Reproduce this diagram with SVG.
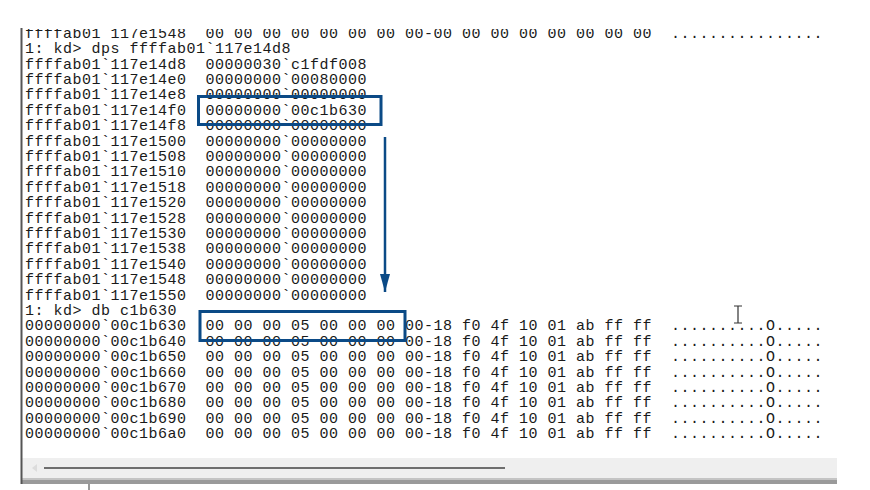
<svg xmlns="http://www.w3.org/2000/svg" width="870" height="490" viewBox="0 0 870 490">
<style>
.t text{font-family:"Liberation Mono","DejaVu Sans Mono",monospace;font-size:15px;letter-spacing:0.5px;fill:#1a1a1a;white-space:pre}
.hl{fill:none;stroke:#0b4a86;stroke-width:3}
</style>
<defs>
<clipPath id="clipTop"><rect x="0" y="29" width="870" height="461"/></clipPath>
<marker id="ah" viewBox="0 0 18 10" refX="18" refY="5" markerWidth="18" markerHeight="10" markerUnits="userSpaceOnUse" orient="auto">
<path d="M0,0 L18,5 L0,10 Z" fill="#0b4a86"/>
</marker>
</defs>
<rect width="870" height="490" fill="#ffffff"/>
<g id="window-frame">
<rect x="22" y="458" width="815" height="20" fill="#efefef"/>
<rect x="22" y="478" width="815" height="2" fill="#c4c4c4"/>
<rect x="22" y="480" width="815" height="4" fill="#9a9a9a"/>
<line x1="44" y1="468" x2="505" y2="468" stroke="#6e6e6e" stroke-width="2"/>
<path d="M37,464 L32,468 L37,472 Z" fill="#dcdcdc"/>
<line x1="21.5" y1="28" x2="21.5" y2="484" stroke="#555" stroke-width="2"/>
<line x1="89" y1="484" x2="89" y2="490" stroke="#777" stroke-width="1.5"/>
<path d="M734,306 L742,306 M738,306 L738,323 M734,323 L742,323" stroke="#333" stroke-width="1.2" fill="none"/>
</g>
<g id="console-text" class="t">
<text xml:space="preserve" x="25" y="37.8" clip-path="url(#clipTop)">ffffab01`117e1548  00 00 00 00 00 00 00 00-00 00 00 00 00 00 00 00  ................</text>
<text xml:space="preserve" x="25" y="53.2">1: kd&gt; dps ffffab01`117e14d8</text>
<text xml:space="preserve" x="25" y="68.6">ffffab01`117e14d8  00000030`c1fdf008</text>
<text xml:space="preserve" x="25" y="84.0">ffffab01`117e14e0  00000000`00080000</text>
<text xml:space="preserve" x="25" y="99.4">ffffab01`117e14e8  00000000`00000000</text>
<text xml:space="preserve" x="25" y="114.8">ffffab01`117e14f0  00000000`00c1b630</text>
<text xml:space="preserve" x="25" y="130.2">ffffab01`117e14f8  00000000`00000000</text>
<text xml:space="preserve" x="25" y="145.6">ffffab01`117e1500  00000000`00000000</text>
<text xml:space="preserve" x="25" y="161.0">ffffab01`117e1508  00000000`00000000</text>
<text xml:space="preserve" x="25" y="176.4">ffffab01`117e1510  00000000`00000000</text>
<text xml:space="preserve" x="25" y="191.8">ffffab01`117e1518  00000000`00000000</text>
<text xml:space="preserve" x="25" y="207.2">ffffab01`117e1520  00000000`00000000</text>
<text xml:space="preserve" x="25" y="222.6">ffffab01`117e1528  00000000`00000000</text>
<text xml:space="preserve" x="25" y="238.0">ffffab01`117e1530  00000000`00000000</text>
<text xml:space="preserve" x="25" y="253.4">ffffab01`117e1538  00000000`00000000</text>
<text xml:space="preserve" x="25" y="268.8">ffffab01`117e1540  00000000`00000000</text>
<text xml:space="preserve" x="25" y="284.2">ffffab01`117e1548  00000000`00000000</text>
<text xml:space="preserve" x="25" y="299.6">ffffab01`117e1550  00000000`00000000</text>
<text xml:space="preserve" x="25" y="315.0">1: kd&gt; db c1b630</text>
<text xml:space="preserve" x="25" y="330.4">00000000`00c1b630  00 00 00 05 00 00 00 00-18 f0 4f 10 01 ab ff ff  ..........O.....</text>
<text xml:space="preserve" x="25" y="345.8">00000000`00c1b640  00 00 00 05 00 00 00 00-18 f0 4f 10 01 ab ff ff  ..........O.....</text>
<text xml:space="preserve" x="25" y="361.2">00000000`00c1b650  00 00 00 05 00 00 00 00-18 f0 4f 10 01 ab ff ff  ..........O.....</text>
<text xml:space="preserve" x="25" y="376.6">00000000`00c1b660  00 00 00 05 00 00 00 00-18 f0 4f 10 01 ab ff ff  ..........O.....</text>
<text xml:space="preserve" x="25" y="392.0">00000000`00c1b670  00 00 00 05 00 00 00 00-18 f0 4f 10 01 ab ff ff  ..........O.....</text>
<text xml:space="preserve" x="25" y="407.4">00000000`00c1b680  00 00 00 05 00 00 00 00-18 f0 4f 10 01 ab ff ff  ..........O.....</text>
<text xml:space="preserve" x="25" y="422.8">00000000`00c1b690  00 00 00 05 00 00 00 00-18 f0 4f 10 01 ab ff ff  ..........O.....</text>
<text xml:space="preserve" x="25" y="438.2">00000000`00c1b6a0  00 00 00 05 00 00 00 00-18 f0 4f 10 01 ab ff ff  ..........O.....</text>
</g>
<g id="box-pointer">
<rect class="hl" x="198.5" y="96.5" width="182.5" height="28"/>
</g>
<g id="box-target">
<rect class="hl" x="200" y="311.5" width="205" height="29"/>
</g>
<g id="connectors">
<line x1="385" y1="137" x2="385" y2="292" stroke="#0b4a86" stroke-width="2.5" marker-end="url(#ah)"/>
</g>
</svg>
